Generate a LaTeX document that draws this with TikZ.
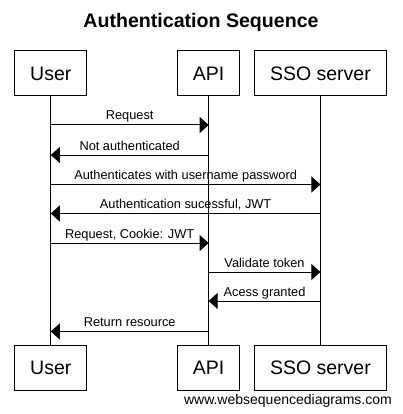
\documentclass[tikz,border=0pt]{standalone}
\usepackage{fontspec}
\setmainfont{Liberation Sans}
\usetikzlibrary{arrows.meta,positioning}

\begin{document}
\begin{tikzpicture}[x=1pt, y=-1pt,
  actor/.style={rectangle, draw=black, line width=1pt, inner xsep=15.5pt, minimum height=45pt, font=\fontsize{19.5}{23}\selectfont},
  life/.style={draw, line width=1pt},
  msg/.style={draw, line width=1pt, -{Triangle[length=9pt, width=16pt]}},
  lbl/.style={midway, anchor=base, yshift=5pt, inner sep=0pt, font=\fontsize{12.8}{15}\selectfont}]

  \useasboundingbox (0,0) rectangle (402,414);

  % Title
  \node [anchor=base, font=\fontsize{19.6}{23}\selectfont\bfseries] (title) at (201,28) {Authentication Sequence};

  % Row 1: participants (top)
  \node [actor] (userT) at (50.8,73.5) {User};
  \node [actor] (apiT) at (208.6,73.5) {API};
  \node [actor] (ssoT) at (320.4,73.5) {SSO server};

  % Row 2: participants (bottom)
  \node [actor, below=248.5pt of userT] (userB) {User};
  \node [actor, below=248.5pt of apiT] (apiB) {API};
  \node [actor, below=248.5pt of ssoT] (ssoB) {SSO server};

  % Lifelines
  \path [life] (userT) -- (userB);
  \path [life] (apiT) -- (apiB);
  \path [life] (ssoT) -- (ssoB);

  % Messages
  \path [msg] (userT |- 0,125) -- (apiT |- 0,125) node [lbl] {Request};
  \path [msg] (apiT |- 0,155) -- (userT |- 0,155) node [lbl] {Not authenticated};
  \path [msg] (userT |- 0,184.5) -- (ssoT |- 0,184.5) node [lbl] {Authenticates with username password};
  \path [msg] (ssoT |- 0,213.5) -- (userT |- 0,213.5) node [lbl] {Authentication sucessful, JWT};
  \path [msg] (userT |- 0,243) -- (apiT |- 0,243) node [lbl] {Request, Cookie: JWT};
  \path [msg] (apiT |- 0,272) -- (ssoT |- 0,272) node [lbl] {Validate token};
  \path [msg] (ssoT |- 0,301) -- (apiT |- 0,301) node [lbl] {Acess granted};
  \path [msg] (apiT |- 0,331.5) -- (userT |- 0,331.5) node [lbl] {Return resource};

  % Footer
  \node [anchor=base east, inner sep=0pt, font=\fontsize{14}{16}\selectfont] (footer) at (392,404) {www.websequencediagrams.com};
\end{tikzpicture}
\end{document}
